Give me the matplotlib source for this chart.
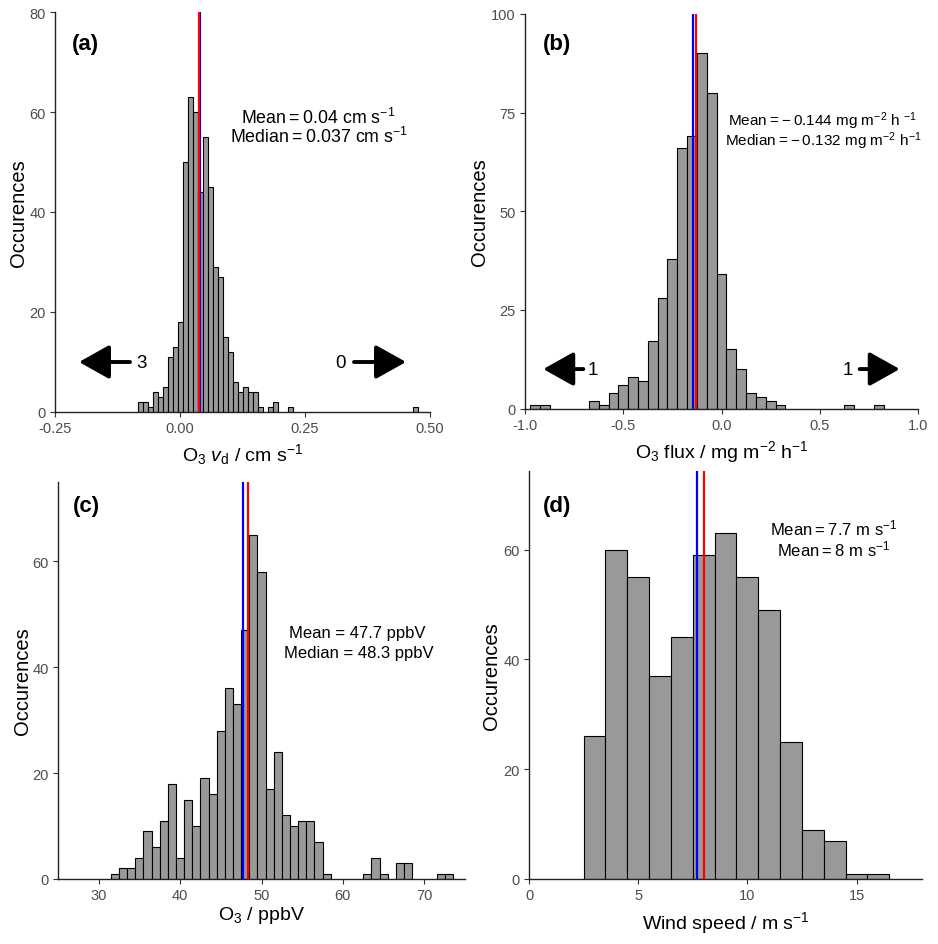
import matplotlib
matplotlib.use("Agg")
import matplotlib.pyplot as plt

plt.rcParams["font.family"] = ["Liberation Sans", "DejaVu Sans"]
plt.rcParams["mathtext.fontset"] = "custom"
plt.rcParams["mathtext.rm"] = "Liberation Sans"
plt.rcParams["mathtext.it"] = "Liberation Sans:italic"
plt.rcParams["mathtext.bf"] = "Liberation Sans:bold"
plt.rcParams["axes.unicode_minus"] = False

# (a) O3 deposition velocity, bin width 0.01
vd_centers = [-0.08, -0.07, -0.06, -0.05, -0.04, -0.03, -0.02, -0.01, 0.00, 0.01,
              0.02, 0.03, 0.04, 0.05, 0.06, 0.07, 0.08, 0.09, 0.10, 0.11,
              0.12, 0.13, 0.14, 0.15, 0.16, 0.18, 0.19, 0.22, 0.47]
vd_counts = [2, 2, 1, 4, 3, 5, 11, 13, 18, 50,
             63, 60, 44, 55, 45, 29, 27, 15, 12, 6,
             4, 5, 4, 4, 1, 1, 2, 1, 1]
vd_mean, vd_median = 0.040, 0.037

# (b) O3 flux, bin width 0.05
flux_centers = [-0.95, -0.90, -0.65, -0.60, -0.55, -0.50, -0.45, -0.40, -0.35, -0.30,
                -0.25, -0.20, -0.15, -0.10, -0.05, 0.00, 0.05, 0.10, 0.15, 0.20,
                0.25, 0.30, 0.65, 0.80]
flux_counts = [1, 1, 2, 1, 4, 6, 8, 7, 17, 28,
               38, 66, 69, 90, 80, 34, 15, 10, 4, 3,
               2, 1, 1, 1]
flux_mean, flux_median = -0.144, -0.132

# (c) O3 mixing ratio, bin width 1
o3_centers = [32, 33, 34, 35, 36, 37, 38, 39, 40, 41, 42, 43, 44, 45, 46, 47, 48, 49,
              50, 51, 52, 53, 54, 55, 56, 57, 58, 63, 64, 65, 67, 68, 72, 73]
o3_counts = [1, 2, 2, 4, 9, 6, 11, 18, 4, 15, 10, 19, 16, 28, 36, 33, 47, 65,
             58, 17, 24, 12, 10, 11, 11, 7, 1, 1, 4, 1, 3, 3, 1, 1]
o3_mean, o3_median = 47.7, 48.3

# (d) wind speed, bin width 1
ws_centers = [3, 4, 5, 6, 7, 8, 9, 10, 11, 12, 13, 14, 15, 16]
ws_counts = [26, 60, 55, 37, 44, 59, 63, 55, 49, 25, 9, 7, 1, 1]
ws_mean, ws_median = 7.7, 8.0

W, H = 938, 945
fig = plt.figure(figsize=(W / 100, H / 100), dpi=100)


def add_ax(left, top, right, bottom):
    return fig.add_axes([left / W, 1 - bottom / H, (right - left) / W, (bottom - top) / H])


def style(ax, xlim, ylim, xticks, xticklabels, yticks, xlabel, xlab_y, ylab_x):
    ax.set_xlim(*xlim)
    ax.set_ylim(*ylim)
    ax.set_xticks(xticks)
    ax.set_xticklabels(xticklabels)
    ax.set_yticks(yticks)
    for s in ["top", "right"]:
        ax.spines[s].set_visible(False)
    for s in ["left", "bottom"]:
        ax.spines[s].set_color("#222222")
        ax.spines[s].set_linewidth(1.0)
    ax.tick_params(length=3.5, width=0.8, color="#333333", labelcolor="#4D4D4D",
                   labelsize=10.5, pad=3)
    ax.set_xlabel(xlabel, fontsize=14, va="center")
    ax.xaxis.set_label_coords(0.5, xlab_y)
    ax.set_ylabel("Occurences", fontsize=14.5, va="center")
    ax.yaxis.set_label_coords(ylab_x, 0.5)


def hist(ax, centers, counts, width, mean, median):
    ax.bar(centers, counts, width=width, color="#999999", edgecolor="black",
           linewidth=0.8, zorder=2)
    ax.axvline(mean, color="blue", lw=1.6, zorder=3)
    ax.axvline(median, color="red", lw=1.6, zorder=3)


def arrow(ax, tail, tip, y):
    ax.annotate("", xy=(tip, y), xytext=(tail, y),
                arrowprops=dict(arrowstyle="-|>,head_length=1.25,head_width=0.7",
                                color="black", lw=2.8, shrinkA=0, shrinkB=0,
                                mutation_scale=15), zorder=4)


# (a)
ax = add_ax(55, 13, 430, 413)
hist(ax, vd_centers, vd_counts, 0.01, vd_mean, vd_median)
style(ax, (-0.25, 0.5), (0, 80), [-0.25, 0, 0.25, 0.5], ["-0.25", "0.00", "0.25", "0.50"],
      [0, 20, 40, 60, 80], r"O$_3$ $v_\mathrm{d}$ / cm s$^{-1}$", -0.105, -0.097)
ax.text(-0.19, 73.7, "(a)", fontsize=16, fontweight="bold", ha="center", va="center")
ax.text(0.277, 57.9, "Mean\u2009=\u20090.04 cm s$^{-1}$", fontsize=12.8, ha="center", va="baseline")
ax.text(0.278, 54.0, "Median\u2009=\u20090.037 cm s$^{-1}$", fontsize=12.8, ha="center", va="baseline")
arrow(ax, -0.10, -0.202, 10)
ax.text(-0.077, 10, "3", fontsize=13.5, ha="center", va="center")
arrow(ax, 0.348, 0.452, 10)
ax.text(0.321, 10, "0", fontsize=13.5, ha="center", va="center")

# (b)
ax = add_ax(525, 15, 918, 409.5)
hist(ax, flux_centers, flux_counts, 0.05, flux_mean, flux_median)
style(ax, (-1, 1), (0, 100), [-1, -0.5, 0, 0.5, 1], ["-1.0", "-0.5", "0.0", "0.5", "1.0"],
      [0, 25, 50, 75, 100], r"O$_3$ flux / mg m$^{-2}$ h$^{-1}$", -0.108, -0.115)
ax.text(-0.836, 92.4, "(b)", fontsize=16, fontweight="bold", ha="center", va="center")
ax.text(0.512, 71.9, "Mean\u2009=\u2009\u2212\u20090.144 mg m$^{-2}$ h $^{-1}$", fontsize=11,
        ha="center", va="baseline")
ax.text(0.517, 66.8, "Median\u2009=\u2009\u2212\u20090.132 mg m$^{-2}$ h$^{-1}$", fontsize=11,
        ha="center", va="baseline")
arrow(ax, -0.703, -0.907, 10)
ax.text(-0.656, 10, "1", fontsize=13.5, ha="center", va="center")
arrow(ax, 0.703, 0.907, 10)
ax.text(0.644, 10, "1", fontsize=13.5, ha="center", va="center")

# (c)
ax = add_ax(58, 483, 465, 880)
hist(ax, o3_centers, o3_counts, 1, o3_mean, o3_median)
style(ax, (25, 75), (0, 75), [30, 40, 50, 60, 70], ["30", "40", "50", "60", "70"],
      [0, 20, 40, 60], r"O$_3$ / ppbV", -0.09, -0.088)
ax.text(28.5, 70.5, "(c)", fontsize=16, fontweight="bold", ha="center", va="center")
ax.text(61.8, 45.7, "Mean = 47.7 ppbV", fontsize=12, ha="center", va="baseline")
ax.text(61.9, 41.9, "Median = 48.3 ppbV", fontsize=12, ha="center", va="baseline")

# (d)
ax = add_ax(529, 472, 922, 880)
hist(ax, ws_centers, ws_counts, 1, ws_mean, ws_median)
style(ax, (0, 18), (0, 74.3), [0, 5, 10, 15], ["0", "5", "10", "15"],
      [0, 20, 40, 60], r"Wind speed / m s$^{-1}$", -0.105, -0.095)
ax.text(1.3, 68, "(d)", fontsize=16, fontweight="bold", ha="center", va="center")
ax.text(13.97, 62.8, "Mean\u2009=\u20097.7 m s$^{-1}$", fontsize=12, ha="center", va="baseline")
ax.text(13.94, 59.0, "Mean\u2009=\u20098 m s$^{-1}$", fontsize=12, ha="center", va="baseline")

fig.savefig("out.png", dpi=100)
